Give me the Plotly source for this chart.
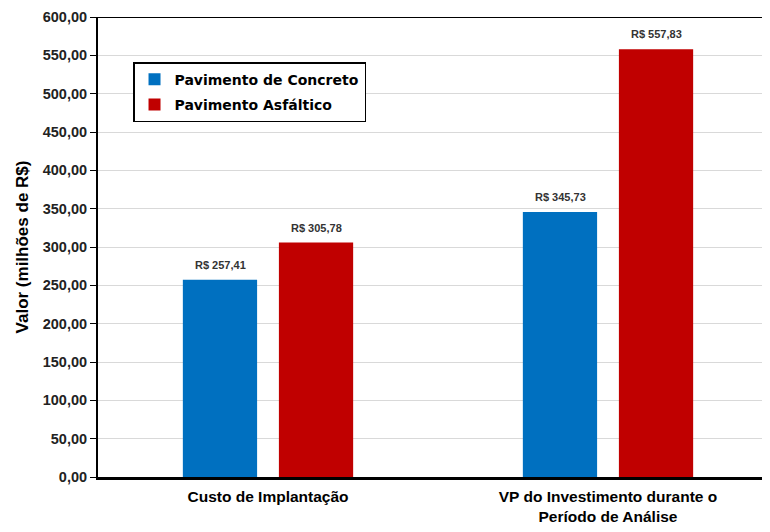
import plotly.graph_objects as go

categories = ["Custo de Implantação", "VP do Investimento durante o<br>Período de Análise"]
concreto = [257.41, 345.73]
asfaltico = [305.78, 557.83]
series_names = ["Pavimento de Concreto", "Pavimento Asfáltico"]
colors = ["#0070C0", "#C00000"]

sans = "Liberation Sans, Arial, sans-serif"
legend_font = "DejaVu Sans, Verdana, sans-serif"

fig = go.Figure()
for name, vals, col in zip(series_names, [concreto, asfaltico], colors):
    fig.add_trace(go.Bar(x=categories, y=vals, name=name, marker_color=col,
                         marker_line_width=0, legendgroup=name))

def fmt(v):
    return "R$ " + f"{v:.2f}".replace(".", ",")

for vals, shift in [(concreto, -48), (asfaltico, 48)]:
    for c, v in zip(categories, vals):
        fig.add_annotation(x=c, y=v, text="<b>" + fmt(v) + "</b>", showarrow=False,
                           xshift=shift, yshift=15, font=dict(family=sans, size=11, color="#333333"))

fig.add_shape(type="line", xref="paper", yref="y", x0=0, x1=1, y0=600, y1=600,
              line=dict(color="black", width=2))

fig.update_layout(
    width=770, height=532,
    margin=dict(l=90, r=0, t=9, b=63),
    plot_bgcolor="white", paper_bgcolor="white",
    separators=",.",
    barmode="group", bargap=0.435, bargroupgap=0.227,
    showlegend=True,
    legend=dict(x=0.0515, y=0.902, xanchor="left", yanchor="top",
                bgcolor="white", bordercolor="black", borderwidth=1.5,
                font=dict(family=legend_font, size=14, color="black", weight="bold"),
                itemwidth=30,
                traceorder="grouped", tracegroupgap=4),
    xaxis=dict(range=[-0.5, 1.5], showline=True, linecolor="black", linewidth=3,
               tickfont=dict(family=sans, size=15.5, color="black", weight="bold"),
               ticks="", ticklabelstandoff=3),
    yaxis=dict(range=[0, 600], dtick=50, tickformat=".2f", showgrid=True,
               gridcolor="#d9d9d9", gridwidth=1, showline=True, linecolor="black", linewidth=2,
               ticks="outside", ticklen=6, tickcolor="black",
               tickfont=dict(family=sans, size=14.5, color="#222222", weight="bold"),
               title=dict(text="<b>Valor (milhões de R$)</b>", font=dict(family=sans, size=17, color="black"),
                          standoff=10),
               zeroline=False),
)

fig.write_html("out.html")
